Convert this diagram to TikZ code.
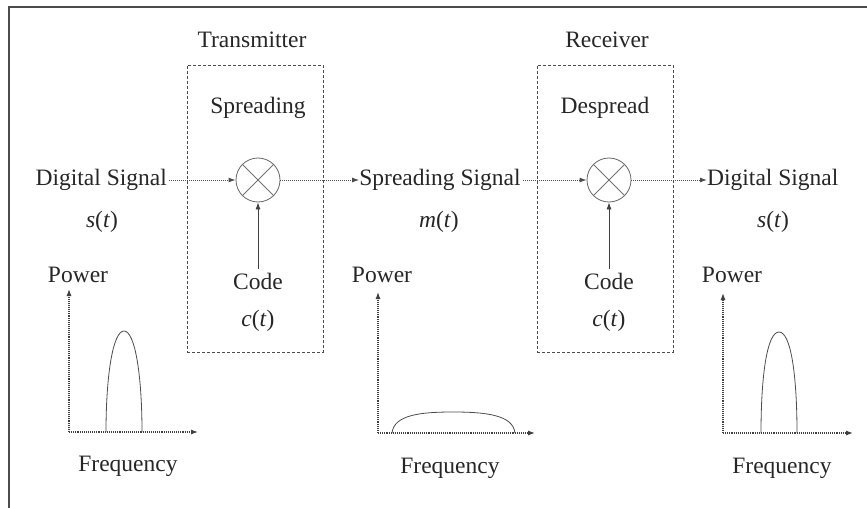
\documentclass[tikz,border=0pt]{standalone}
\usepackage{fontspec}
\setmainfont{Liberation Serif}
\usetikzlibrary{arrows.meta}
\begin{document}
\begin{tikzpicture}[x=1pt,y=-1pt,
  txt/.style={font=\fontsize{23.5}{28}\selectfont, inner sep=0pt, text=black!85},
  dashbox/.style={draw=black!70, densely dashed, line width=0.9pt, minimum width=136pt, minimum height=287pt, inner sep=0pt},
  mixer/.style={circle, draw=black!60, line width=0.8pt, minimum size=44pt, inner sep=0pt},
  xline/.style={draw=black!55, line width=0.8pt},
  sigarrow/.style={draw=black!70, densely dotted, line width=1pt, -{Latex[length=7pt,width=5pt]}},
  codearrow/.style={draw=black!75, line width=0.8pt, -{Latex[length=7pt,width=5pt]}},
  axis/.style={draw=black!75, densely dotted, line width=1.1pt, -{Latex[length=7pt,width=5pt]}},
  spec/.style={draw=black!70, line width=0.8pt},
  frameline/.style={draw=black!70, line width=1.3pt}]
\useasboundingbox (0,0) rectangle (867,508);
% frame
\draw[frameline] (9,508) -- (9,7) -- (867,7);

% boxes
\node[dashbox] (txbox) at (255,208.5) {};
\node[dashbox] (rxbox) at (605,208.5) {};
\node[txt] (txlabel) at (252,40) {Transmitter};
\node[txt] (rxlabel) at (607,40) {Receiver};
\node[txt] (spreading) at (258,108) {Spreading};
\node[txt] (despread) at (605,108) {Despread};

% mixers
\node[mixer] (mixtx) at (258,180) {};
\node[mixer] (mixrx) at (609,180) {};
\draw[xline] (mixtx.45) -- (mixtx.225) (mixtx.135) -- (mixtx.315);
\draw[xline] (mixrx.45) -- (mixrx.225) (mixrx.135) -- (mixrx.315);

% signals
\node[txt, anchor=east] (dsin) at (167,180) {Digital Signal};
\node[txt] (sin) at (102,222) {\textit{s}(\textit{t})};
\node[txt] (spsig) at (440,180) {Spreading Signal};
\node[txt] (mt) at (439,222) {\textit{m}(\textit{t})};
\node[txt, anchor=west] (dsout) at (707,180) {Digital Signal};
\node[txt] (sout) at (773,222) {\textit{s}(\textit{t})};

% code
\node[txt] (codetx) at (258,281) {Code};
\node[txt] (cttx) at (258,321) {\textit{c}(\textit{t})};
\node[txt] (coderx) at (609,281) {Code};
\node[txt] (ctrx) at (609,321) {\textit{c}(\textit{t})};

% connectors
\draw[sigarrow] (dsin.east) ++(2,0) -- (mixtx.west);
\draw[sigarrow] (mixtx.east) -- (spsig.west);
\draw[sigarrow] (spsig.east) ++(2,0) -- (mixrx.west);
\draw[sigarrow] (mixrx.east) -- (dsout.west);
\draw[codearrow] (codetx.north) ++(0,-4) -- (mixtx.south);
\draw[codearrow] (coderx.north) ++(0,-4) -- (mixrx.south);

% plot 1
\node[txt] (pw1) at (78,275) {Power};
\node[txt] (fr1) at (128,466) {Frequency};
\coordinate (o1) at (69,432);
\coordinate (y1) at (69,289);
\coordinate (x1) at (198,432);
\draw[axis] (o1) -- (y1);
\draw[axis] (o1) -- (x1);
\draw[spec] (106,432) .. controls (106,375) and (113,331) .. (124,331) .. controls (135,331) and (142,375) .. (142,432);

% plot 2
\node[txt] (pw2) at (382,275) {Power};
\node[txt] (fr2) at (450,468) {Frequency};
\coordinate (o2) at (378,433);
\coordinate (y2) at (378,292);
\coordinate (x2) at (535,433);
\draw[axis] (o2) -- (y2);
\draw[axis] (o2) -- (x2);
\draw[spec] (392,433) .. controls (394,415) and (420,412) .. (453,412) .. controls (486,412) and (513,415) .. (515,433);

% plot 3
\node[txt] (pw3) at (732,275) {Power};
\node[txt] (fr3) at (782,468) {Frequency};
\coordinate (o3) at (723,433);
\coordinate (y3) at (723,293);
\coordinate (x3) at (853,433);
\draw[axis] (o3) -- (y3);
\draw[axis] (o3) -- (x3);
\draw[spec] (761,433) .. controls (761,376) and (767,332) .. (779,332) .. controls (791,332) and (797,376) .. (797,433);
\end{tikzpicture}
\end{document}
